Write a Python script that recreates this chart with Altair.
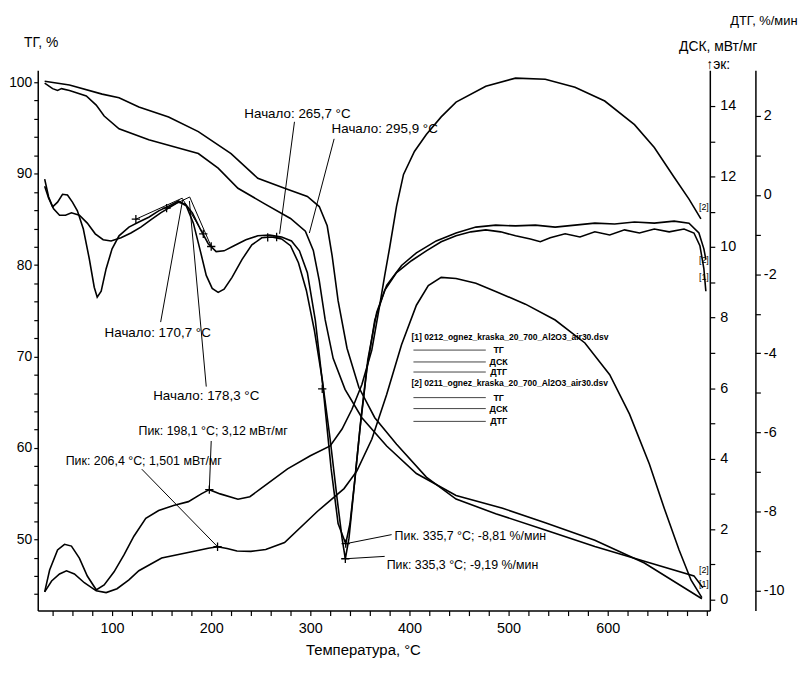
import altair as alt
import pandas as pd

FONT = "Liberation Sans, Arial, sans-serif"

# ---------------- curves: temperature (°C) and values ----------------
# TG, %  (file [1] and file [2])
tg1_t = [32, 40, 45, 49, 57, 74, 84, 92, 107, 137, 167, 187, 207, 227, 254, 280, 295, 303, 309, 315,
         323, 335, 352, 377, 407, 447, 494, 537, 587, 637, 695]
tg1_v = [99.9, 99.3, 99.1, 99.3, 99.1, 98.5, 97.5, 96.3, 94.9, 93.7, 92.8, 92.2, 90.6, 88.4, 86.7, 85.1,
         83.7, 81.6, 78.3, 74.0, 69.8, 66.4, 63.3, 60.2, 57.2, 54.8, 53.4, 51.8, 49.9, 47.4, 43.5]
tg2_t = [32, 57, 90, 107, 127, 157, 187, 220, 247, 274, 297, 309, 317, 322, 328, 337, 349, 365, 387,
         417, 447, 487, 540, 587, 637, 687, 696]
tg2_v = [100.1, 99.7, 98.7, 98.3, 97.3, 96.2, 94.6, 92.2, 89.5, 88.4, 87.5, 86.4, 84.3, 81.0, 76.1,
         70.9, 66.6, 63.3, 60.4, 56.8, 54.4, 52.8, 50.9, 49.2, 47.6, 46.0, 44.7]

# DSC, mW/mg
dsc1_t = [32, 39, 47, 54, 62, 72, 84, 94, 105, 117, 127, 150, 184, 197, 206.4, 216, 226, 240, 255, 274,
          307, 334, 347, 362, 377, 392, 407, 419, 432, 447, 467, 487, 517, 547, 577, 602, 622, 642, 657,
          672, 684, 695]
dsc1_v = [0.22, 0.53, 0.73, 0.82, 0.73, 0.48, 0.25, 0.20, 0.31, 0.56, 0.82, 1.18, 1.38, 1.46, 1.50, 1.45,
          1.38, 1.37, 1.42, 1.62, 2.50, 3.15, 3.65, 4.55, 5.82, 7.23, 8.35, 8.91, 9.14, 9.11, 8.97, 8.74,
          8.38, 7.93, 7.28, 6.38, 5.26, 3.85, 2.59, 1.41, 0.56, 0.06]
dsc2_t = [32, 37, 45, 52, 59, 67, 75, 84, 92, 102, 112, 122, 134, 147, 162, 177, 190, 198.1, 209, 227,
          239, 250, 277, 300, 320, 332, 342, 352, 362, 370, 375, 380, 387, 394, 405, 417, 432, 447, 477,
          507, 537, 567, 597, 627, 647, 667, 682, 694]
dsc2_v = [0.22, 0.84, 1.41, 1.57, 1.52, 1.18, 0.67, 0.28, 0.42, 0.79, 1.27, 1.80, 2.31, 2.53, 2.67, 2.78,
          3.00, 3.12, 3.00, 2.85, 2.92, 3.15, 3.71, 4.08, 4.36, 4.84, 5.40, 6.10, 7.08, 8.35, 9.19, 9.98,
          11.16, 12.06, 12.71, 13.19, 13.69, 14.11, 14.56, 14.79, 14.76, 14.53, 14.14, 13.47, 12.82,
          11.98, 11.36, 10.80]

# DTG, %/min
dtg1_t = [32, 36, 40, 45, 50, 55, 60, 65, 71, 77, 82, 85, 89, 94, 100, 107, 117, 127, 137, 147, 157, 167,
          175, 182, 189, 195, 201, 207, 213, 221, 231, 241, 251, 261, 271, 280, 288, 296, 304, 312, 320,
          327, 332, 335.3, 339, 344, 350, 357, 365, 375, 387, 402, 417, 432, 447, 462, 477, 492, 507, 522,
          532, 542, 557, 572, 587, 602, 617, 632, 647, 662, 677, 687, 693, 697, 699]
dtg1_v = [0.40, -0.05, -0.30, -0.18, 0.02, 0.00, -0.18, -0.40, -0.86, -1.61, -2.33, -2.58, -2.43, -1.86,
          -1.36, -1.03, -0.81, -0.68, -0.56, -0.40, -0.28, -0.15, -0.28, -0.71, -1.41, -2.03, -2.36, -2.46,
          -2.38, -2.08, -1.63, -1.26, -1.08, -1.06, -1.11, -1.28, -1.71, -2.41, -3.41, -4.66, -6.17, -7.67,
          -8.67, -9.19, -8.67, -7.42, -5.92, -4.41, -3.16, -2.41, -1.96, -1.66, -1.41, -1.18, -1.03, -0.93,
          -0.88, -0.93, -1.03, -1.11, -1.18, -1.08, -0.98, -1.06, -0.93, -1.01, -0.88, -0.96, -0.86, -0.93,
          -0.86, -0.96, -1.28, -1.86, -2.43]
dtg2_t = [32, 36, 41, 47, 53, 59, 67, 75, 83, 91, 99, 109, 119, 129, 139, 149, 159, 167, 174, 181, 189,
          197, 205, 213, 223, 235, 247, 259, 271, 281, 289, 297, 305, 313, 321, 328, 335.7, 340, 345, 351,
          358, 367, 377, 392, 407, 427, 447, 467, 487, 507, 527, 547, 567, 587, 607, 627, 647, 667, 682,
          692, 697, 699]
dtg2_v = [0.22, -0.08, -0.35, -0.51, -0.51, -0.45, -0.51, -0.71, -0.98, -1.13, -1.16, -1.08, -0.96, -0.81,
          -0.63, -0.45, -0.30, -0.18, -0.23, -0.45, -0.86, -1.23, -1.43, -1.41, -1.28, -1.13, -1.03, -1.01,
          -1.06, -1.16, -1.41, -1.96, -3.16, -4.91, -6.92, -8.30, -8.81, -8.30, -7.17, -5.67, -4.16, -2.96,
          -2.28, -1.78, -1.46, -1.16, -0.96, -0.81, -0.76, -0.78, -0.76, -0.81, -0.76, -0.71, -0.73, -0.68,
          -0.71, -0.66, -0.71, -0.96, -1.36, -1.63]

# ---------------- annotations (data units) ----------------
onset_text = ["Начало: 265,7 °C", "Начало: 295,9 °C", "Начало: 170,7 °C", "Начало: 178,3 °C"]
onset_t = [287, 375, 146, 195]
onset_v = [2.05, 1.67, -3.49, -5.09]
onset_lead_t = [284, 324, 149, 195]
onset_lead_v = [1.85, 1.42, -3.21, -4.84]
onset_end_t = [269, 299, 171, 178]
onset_end_v = [-0.98, -0.96, -0.15, -0.15]

dtgpk_text = ["Пик. 335,7 °C; -8,81 %/мин", "Пик: 335,3 °C; -9,19 %/мин"]
dtgpk_t = [335.7, 335.3]
dtgpk_v = [-8.81, -9.19]
dtgpk_lab_t = [385, 377]
dtgpk_lab_v = [-8.62, -9.35]

dscpk_text = ["Пик: 198,1 °C; 3,12 мВт/мг", "Пик: 206,4 °C; 1,501 мВт/мг"]
dscpk_t = [198.1, 206.4]
dscpk_v = [3.12, 1.501]
dscpk_lab_t = [202, 132]
dscpk_lab_v = [4.78, 3.94]
dscpk_lead_t = [200, 130]
dscpk_lead_v = [4.50, 3.70]

# onset construction segments on DTG
cons_t1 = [124, 170.7, 155, 178.3]
cons_v1 = [-0.61, -0.08, -0.33, -0.05]
cons_t2 = [170.7, 192, 178.3, 200]
cons_v2 = [-0.08, -0.98, -0.05, -1.30]
cross_t = [124, 155, 192, 200, 257, 266, 312]
cross_v = [-0.61, -0.33, -0.98, -1.30, -1.07, -1.06, -4.90]

# curve-end file tags
tag_tg_t = [697, 697]
tag_tg_v = [46.6, 45.1]
tag_tg_lab = ["[2]", "[1]"]
tag_dtg_t = [697, 697]
tag_dtg_v = [-1.63, -2.06]
tag_dtg_lab = ["[2]", "[1]"]
tag_dsc_t = [697]
tag_dsc_v = [11.13]
tag_dsc_lab = ["[2]"]

# legend block (placed on the TG scale)
leg_head = ["[1] 0212_ognez_kraska_20_700_Al2O3_air30.dsv", "[2] 0211_ognez_kraska_20_700_Al2O3_air30.dsv"]
leg_head_v = [72.1, 67.1]
leg_items = ["ТГ", "ДСК", "ДТГ", "ТГ", "ДСК", "ДТГ"]
leg_item_v = [70.7, 69.4, 68.3, 65.5, 64.3, 62.9]
leg_x0, leg_x1, leg_xt, leg_xh = 404, 477, 490, 402

# ---------------- scales / axes ----------------
X_DOM = [25, 703]
TG_DOM = [42.2, 101.3]
DSC_DOM = [-0.31, 15.01]
DTG_DOM = [-10.5, 3.15]

x_axis = alt.Axis(values=list(range(40, 701, 20)),
                  labelExpr="datum.value % 100 == 0 && datum.value < 700 ? datum.label : ''",
                  title="Температура, °C", titleX=328, titleY=44, titleBaseline="alphabetic",
                  grid=False, tickSize=5, labelPadding=6,
                  labelFontSize=14.5, titleFontSize=15)
X = alt.X("t:Q", scale=alt.Scale(domain=X_DOM, nice=False, zero=False), axis=x_axis)


def ysc(dom):
    return alt.Scale(domain=dom, nice=False, zero=False)


def df(t, v, name):
    return pd.DataFrame({"t": t, "v": v, "curve": name})


tg_df = pd.concat([df(tg1_t, tg1_v, "1"), df(tg2_t, tg2_v, "2")])
dsc_df = pd.concat([df(dsc1_t, dsc1_v, "1"), df(dsc2_t, dsc2_v, "2")])
dtg_df = pd.concat([df(dtg1_t, dtg1_v, "1"), df(dtg2_t, dtg2_v, "2")])

LW = 1.6
tg_layer = alt.Chart(tg_df).mark_line(color="black", strokeWidth=LW).encode(
    x=X,
    y=alt.Y("v:Q", scale=ysc(TG_DOM),
            axis=alt.Axis(orient="left", values=list(range(44, 101, 2)),
                          labelExpr="datum.value % 10 == 0 ? datum.label : ''",
                          title="ТГ, %", titleAngle=0, titleX=3, titleY=-24,
                          titleAlign="center", titleBaseline="alphabetic",
                          grid=False, tickSize=4, labelPadding=2, labelFontSize=14, titleFontSize=14)),
    detail="curve:N")

dsc_layer = alt.Chart(dsc_df).mark_line(color="black", strokeWidth=LW).encode(
    x=X,
    y=alt.Y("v:Q", scale=ysc(DSC_DOM),
            axis=alt.Axis(orient="right", values=list(range(0, 15)),
                          labelExpr="datum.value % 2 == 0 ? '' + datum.value : ''",
                          title=["ДСК, мВт/мг", "↑эк:"], titleAngle=0, titleX=8, titleY=-20,
                          titleAlign="center", titleBaseline="alphabetic", titleLineHeight=18,
                          grid=False, tickSize=5, labelPadding=5, labelFontSize=14.5, titleFontSize=14)),
    detail="curve:N")

dtg_layer = alt.Chart(dtg_df).mark_line(color="black", strokeWidth=LW).encode(
    x=X,
    y=alt.Y("v:Q", scale=ysc(DTG_DOM),
            axis=alt.Axis(orient="right", offset=46, values=list(range(-10, 3)),
                          labelExpr="datum.value % 2 == 0 ? '' + datum.value : ''",
                          title="ДТГ, %/мин", titleAngle=0, titleX=8, titleY=-46,
                          titleAlign="center", titleBaseline="alphabetic",
                          grid=False, tickSize=5, labelPadding=3, labelFontSize=14.5, titleFontSize=13)),
    detail="curve:N")


def Y(dom):
    return alt.Y("v:Q", scale=ysc(dom), axis=None)


# annotation layers
onset_df = pd.DataFrame({"t": onset_t, "v": onset_v, "txt": onset_text})
onset_txt = alt.Chart(onset_df).mark_text(fontSize=13.5, align="center", baseline="middle").encode(
    x=X, y=Y(DTG_DOM), text="txt:N")

lead_df = pd.DataFrame({"t": onset_lead_t + [dtgpk_t[0], dtgpk_t[1]] + cons_t1,
                        "v": onset_lead_v + [dtgpk_v[0], dtgpk_v[1]] + cons_v1,
                        "t2": onset_end_t + [dtgpk_lab_t[0] - 3, dtgpk_lab_t[1] - 2] + cons_t2,
                        "v2": onset_end_v + [dtgpk_lab_v[0] + 0.04, dtgpk_lab_v[1] + 0.22] + cons_v2})
lead_dtg = alt.Chart(lead_df).mark_rule(color="black", strokeWidth=1).encode(
    x=X, x2="t2:Q", y=Y(DTG_DOM), y2="v2:Q")

dtgpk_df = pd.DataFrame({"t": dtgpk_lab_t, "v": dtgpk_lab_v, "txt": dtgpk_text})
dtgpk_txt = alt.Chart(dtgpk_df).mark_text(fontSize=12.5, align="left", baseline="middle").encode(
    x=X, y=Y(DTG_DOM), text="txt:N")

cross_df = pd.DataFrame({"t": cross_t + dtgpk_t, "v": cross_v + dtgpk_v})
PLUS = "M-1,0L1,0M0,-1L0,1"
cross_dtg = alt.Chart(cross_df).mark_point(shape=PLUS, size=70, color="black", strokeWidth=1.3,
                                             filled=False, opacity=1).encode(x=X, y=Y(DTG_DOM))

dscpk_df = pd.DataFrame({"t": dscpk_lab_t, "v": dscpk_lab_v, "txt": dscpk_text})
dscpk_txt = alt.Chart(dscpk_df).mark_text(fontSize=12.5, align="center", baseline="middle").encode(
    x=X, y=Y(DSC_DOM), text="txt:N")
dsclead_df = pd.DataFrame({"t": dscpk_lead_t, "v": dscpk_lead_v, "t2": dscpk_t, "v2": dscpk_v})
dsc_lead = alt.Chart(dsclead_df).mark_rule(color="black", strokeWidth=1).encode(
    x=X, x2="t2:Q", y=Y(DSC_DOM), y2="v2:Q")
dsc_cross = alt.Chart(pd.DataFrame({"t": dscpk_t, "v": dscpk_v})).mark_point(
    shape=PLUS, size=70, color="black", strokeWidth=1.3, filled=False, opacity=1).encode(x=X, y=Y(DSC_DOM))

tags_tg = alt.Chart(pd.DataFrame({"t": tag_tg_t, "v": tag_tg_v, "txt": tag_tg_lab})).mark_text(
    fontSize=9, align="center", baseline="middle").encode(x=X, y=Y(TG_DOM), text="txt:N")
tags_dtg = alt.Chart(pd.DataFrame({"t": tag_dtg_t, "v": tag_dtg_v, "txt": tag_dtg_lab})).mark_text(
    fontSize=9, align="center", baseline="middle").encode(x=X, y=Y(DTG_DOM), text="txt:N")
tags_dsc = alt.Chart(pd.DataFrame({"t": tag_dsc_t, "v": tag_dsc_v, "txt": tag_dsc_lab})).mark_text(
    fontSize=9, align="center", baseline="middle").encode(x=X, y=Y(DSC_DOM), text="txt:N")

leg_head_df = pd.DataFrame({"t": [leg_xh, leg_xh], "v": leg_head_v, "txt": leg_head})
leg_head_txt = alt.Chart(leg_head_df).mark_text(fontSize=8.6, align="left", baseline="middle",
                                                fontWeight="bold").encode(
    x=X, y=Y(TG_DOM), text="txt:N")
leg_item_df = pd.DataFrame({"t": [leg_xt] * 6, "v": leg_item_v, "txt": leg_items,
                            "t0": [leg_x0] * 6, "t1": [leg_x1] * 6})
leg_item_txt = alt.Chart(leg_item_df).mark_text(fontSize=9, align="center", baseline="middle",
                                                fontWeight="bold").encode(
    x=X, y=Y(TG_DOM), text="txt:N")
leg_lines = alt.Chart(leg_item_df).mark_rule(color="#444", strokeWidth=1).encode(
    x=alt.X("t0:Q", scale=alt.Scale(domain=X_DOM, nice=False, zero=False), axis=x_axis),
    x2="t1:Q", y=Y(TG_DOM))

chart = alt.layer(
    tg_layer, dsc_layer, dtg_layer,
    onset_txt, lead_dtg, dtgpk_txt, cross_dtg,
    dscpk_txt, dsc_lead, dsc_cross,
    tags_tg, tags_dtg, tags_dsc,
    leg_head_txt, leg_item_txt, leg_lines,
).resolve_scale(y="independent").properties(
    width=678, height=545,
    autosize=alt.AutoSizeParams(type="none"),
    padding={"left": 30, "top": 60, "right": 94, "bottom": 56},
).configure_view(stroke=None).configure_axis(
    labelFont=FONT, titleFont=FONT, labelColor="black", titleColor="black",
    domainColor="black", tickColor="black", domainWidth=1.5, tickWidth=1.2,
    titleFontWeight="normal",
).configure_text(font=FONT, color="black")

chart.save("out.html", embed_options={"renderer": "svg", "actions": False})
